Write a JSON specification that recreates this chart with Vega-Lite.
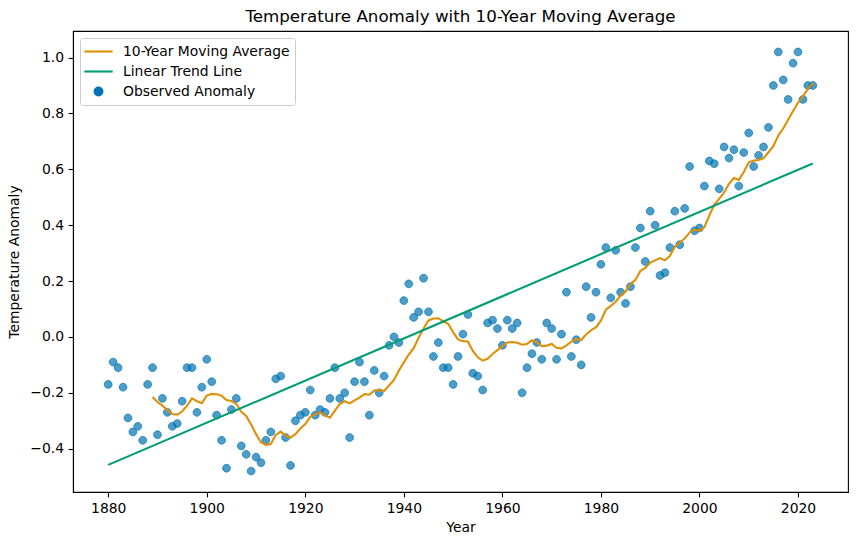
{
  "$schema": "https://vega.github.io/schema/vega-lite/v6.json",
  "width": 775,
  "height": 461,
  "autosize": {"type": "none"},
  "padding": {"left": 73, "top": 31, "right": 10, "bottom": 53},
  "background": "white",
  "config": {
    "font": "DejaVu Sans",
    "view": {"stroke": "black", "strokeWidth": 1.1},
    "axis": {
      "grid": false,
      "domainColor": "black",
      "domainWidth": 1.1,
      "tickColor": "black",
      "tickWidth": 1.1,
      "tickSize": 4.9,
      "labelPadding": 4.5,
      "labelFont": "DejaVu Sans",
      "labelFontSize": 13.9,
      "labelColor": "black",
      "titleFont": "DejaVu Sans",
      "titleFontSize": 13.9,
      "titleFontWeight": "normal",
      "titleColor": "black"
    },
    "title": {"font": "DejaVu Sans", "fontSize": 16.7, "fontWeight": "normal", "color": "black", "baseline": "alphabetic", "offset": 5.5, "anchor": "middle"}
  },
  "title": "Temperature Anomaly with 10-Year Moving Average",
  "datasets": {
    "observed": [
      {"year": 1880, "anomaly": -0.17}, {"year": 1881, "anomaly": -0.09}, {"year": 1882, "anomaly": -0.11}, {"year": 1883, "anomaly": -0.18},
      {"year": 1884, "anomaly": -0.29}, {"year": 1885, "anomaly": -0.34}, {"year": 1886, "anomaly": -0.32}, {"year": 1887, "anomaly": -0.37},
      {"year": 1888, "anomaly": -0.17}, {"year": 1889, "anomaly": -0.11}, {"year": 1890, "anomaly": -0.35}, {"year": 1891, "anomaly": -0.22},
      {"year": 1892, "anomaly": -0.27}, {"year": 1893, "anomaly": -0.32}, {"year": 1894, "anomaly": -0.31}, {"year": 1895, "anomaly": -0.23},
      {"year": 1896, "anomaly": -0.11}, {"year": 1897, "anomaly": -0.11}, {"year": 1898, "anomaly": -0.27}, {"year": 1899, "anomaly": -0.18},
      {"year": 1900, "anomaly": -0.08}, {"year": 1901, "anomaly": -0.16}, {"year": 1902, "anomaly": -0.28}, {"year": 1903, "anomaly": -0.37},
      {"year": 1904, "anomaly": -0.47}, {"year": 1905, "anomaly": -0.26}, {"year": 1906, "anomaly": -0.22}, {"year": 1907, "anomaly": -0.39},
      {"year": 1908, "anomaly": -0.42}, {"year": 1909, "anomaly": -0.48}, {"year": 1910, "anomaly": -0.43}, {"year": 1911, "anomaly": -0.45},
      {"year": 1912, "anomaly": -0.37}, {"year": 1913, "anomaly": -0.34}, {"year": 1914, "anomaly": -0.15}, {"year": 1915, "anomaly": -0.14},
      {"year": 1916, "anomaly": -0.36}, {"year": 1917, "anomaly": -0.46}, {"year": 1918, "anomaly": -0.30}, {"year": 1919, "anomaly": -0.28},
      {"year": 1920, "anomaly": -0.27}, {"year": 1921, "anomaly": -0.19}, {"year": 1922, "anomaly": -0.28}, {"year": 1923, "anomaly": -0.26},
      {"year": 1924, "anomaly": -0.27}, {"year": 1925, "anomaly": -0.22}, {"year": 1926, "anomaly": -0.11}, {"year": 1927, "anomaly": -0.22},
      {"year": 1928, "anomaly": -0.20}, {"year": 1929, "anomaly": -0.36}, {"year": 1930, "anomaly": -0.16}, {"year": 1931, "anomaly": -0.09},
      {"year": 1932, "anomaly": -0.16}, {"year": 1933, "anomaly": -0.28}, {"year": 1934, "anomaly": -0.12}, {"year": 1935, "anomaly": -0.20},
      {"year": 1936, "anomaly": -0.14}, {"year": 1937, "anomaly": -0.03}, {"year": 1938, "anomaly": 0.00}, {"year": 1939, "anomaly": -0.02},
      {"year": 1940, "anomaly": 0.13}, {"year": 1941, "anomaly": 0.19}, {"year": 1942, "anomaly": 0.07}, {"year": 1943, "anomaly": 0.09},
      {"year": 1944, "anomaly": 0.21}, {"year": 1945, "anomaly": 0.09}, {"year": 1946, "anomaly": -0.07}, {"year": 1947, "anomaly": -0.02},
      {"year": 1948, "anomaly": -0.11}, {"year": 1949, "anomaly": -0.11}, {"year": 1950, "anomaly": -0.17}, {"year": 1951, "anomaly": -0.07},
      {"year": 1952, "anomaly": 0.01}, {"year": 1953, "anomaly": 0.08}, {"year": 1954, "anomaly": -0.13}, {"year": 1955, "anomaly": -0.14},
      {"year": 1956, "anomaly": -0.19}, {"year": 1957, "anomaly": 0.05}, {"year": 1958, "anomaly": 0.06}, {"year": 1959, "anomaly": 0.03},
      {"year": 1960, "anomaly": -0.03}, {"year": 1961, "anomaly": 0.06}, {"year": 1962, "anomaly": 0.03}, {"year": 1963, "anomaly": 0.05},
      {"year": 1964, "anomaly": -0.20}, {"year": 1965, "anomaly": -0.11}, {"year": 1966, "anomaly": -0.06}, {"year": 1967, "anomaly": -0.02},
      {"year": 1968, "anomaly": -0.08}, {"year": 1969, "anomaly": 0.05}, {"year": 1970, "anomaly": 0.03}, {"year": 1971, "anomaly": -0.08},
      {"year": 1972, "anomaly": 0.01}, {"year": 1973, "anomaly": 0.16}, {"year": 1974, "anomaly": -0.07}, {"year": 1975, "anomaly": -0.01},
      {"year": 1976, "anomaly": -0.10}, {"year": 1977, "anomaly": 0.18}, {"year": 1978, "anomaly": 0.07}, {"year": 1979, "anomaly": 0.16},
      {"year": 1980, "anomaly": 0.26}, {"year": 1981, "anomaly": 0.32}, {"year": 1982, "anomaly": 0.14}, {"year": 1983, "anomaly": 0.31},
      {"year": 1984, "anomaly": 0.16}, {"year": 1985, "anomaly": 0.12}, {"year": 1986, "anomaly": 0.18}, {"year": 1987, "anomaly": 0.32},
      {"year": 1988, "anomaly": 0.39}, {"year": 1989, "anomaly": 0.27}, {"year": 1990, "anomaly": 0.45}, {"year": 1991, "anomaly": 0.40},
      {"year": 1992, "anomaly": 0.22}, {"year": 1993, "anomaly": 0.23}, {"year": 1994, "anomaly": 0.32}, {"year": 1995, "anomaly": 0.45},
      {"year": 1996, "anomaly": 0.33}, {"year": 1997, "anomaly": 0.46}, {"year": 1998, "anomaly": 0.61}, {"year": 1999, "anomaly": 0.38},
      {"year": 2000, "anomaly": 0.39}, {"year": 2001, "anomaly": 0.54}, {"year": 2002, "anomaly": 0.63}, {"year": 2003, "anomaly": 0.62},
      {"year": 2004, "anomaly": 0.53}, {"year": 2005, "anomaly": 0.68}, {"year": 2006, "anomaly": 0.64}, {"year": 2007, "anomaly": 0.67},
      {"year": 2008, "anomaly": 0.54}, {"year": 2009, "anomaly": 0.66}, {"year": 2010, "anomaly": 0.73}, {"year": 2011, "anomaly": 0.61},
      {"year": 2012, "anomaly": 0.65}, {"year": 2013, "anomaly": 0.68}, {"year": 2014, "anomaly": 0.75}, {"year": 2015, "anomaly": 0.90},
      {"year": 2016, "anomaly": 1.02}, {"year": 2017, "anomaly": 0.92}, {"year": 2018, "anomaly": 0.85}, {"year": 2019, "anomaly": 0.98},
      {"year": 2020, "anomaly": 1.02}, {"year": 2021, "anomaly": 0.85}, {"year": 2022, "anomaly": 0.90}, {"year": 2023, "anomaly": 0.90}
    ],
    "moving": [
      {"year": 1889, "ma": -0.215}, {"year": 1890, "ma": -0.233}, {"year": 1891, "ma": -0.246}, {"year": 1892, "ma": -0.262},
      {"year": 1893, "ma": -0.276}, {"year": 1894, "ma": -0.278}, {"year": 1895, "ma": -0.267}, {"year": 1896, "ma": -0.246},
      {"year": 1897, "ma": -0.220}, {"year": 1898, "ma": -0.230}, {"year": 1899, "ma": -0.237}, {"year": 1900, "ma": -0.210},
      {"year": 1901, "ma": -0.204}, {"year": 1902, "ma": -0.205}, {"year": 1903, "ma": -0.210}, {"year": 1904, "ma": -0.226},
      {"year": 1905, "ma": -0.229}, {"year": 1906, "ma": -0.240}, {"year": 1907, "ma": -0.268}, {"year": 1908, "ma": -0.283},
      {"year": 1909, "ma": -0.313}, {"year": 1910, "ma": -0.348}, {"year": 1911, "ma": -0.377}, {"year": 1912, "ma": -0.386},
      {"year": 1913, "ma": -0.383}, {"year": 1914, "ma": -0.351}, {"year": 1915, "ma": -0.339}, {"year": 1916, "ma": -0.353},
      {"year": 1917, "ma": -0.360}, {"year": 1918, "ma": -0.348}, {"year": 1919, "ma": -0.328}, {"year": 1920, "ma": -0.312},
      {"year": 1921, "ma": -0.286}, {"year": 1922, "ma": -0.277}, {"year": 1923, "ma": -0.269}, {"year": 1924, "ma": -0.281},
      {"year": 1925, "ma": -0.289}, {"year": 1926, "ma": -0.264}, {"year": 1927, "ma": -0.240}, {"year": 1928, "ma": -0.230},
      {"year": 1929, "ma": -0.238}, {"year": 1930, "ma": -0.227}, {"year": 1931, "ma": -0.217}, {"year": 1932, "ma": -0.205},
      {"year": 1933, "ma": -0.207}, {"year": 1934, "ma": -0.192}, {"year": 1935, "ma": -0.190}, {"year": 1936, "ma": -0.193},
      {"year": 1937, "ma": -0.174}, {"year": 1938, "ma": -0.154}, {"year": 1939, "ma": -0.120}, {"year": 1940, "ma": -0.091},
      {"year": 1941, "ma": -0.063}, {"year": 1942, "ma": -0.040}, {"year": 1943, "ma": -0.003}, {"year": 1944, "ma": 0.030},
      {"year": 1945, "ma": 0.059}, {"year": 1946, "ma": 0.066}, {"year": 1947, "ma": 0.067}, {"year": 1948, "ma": 0.056},
      {"year": 1949, "ma": 0.047}, {"year": 1950, "ma": 0.017}, {"year": 1951, "ma": -0.009}, {"year": 1952, "ma": -0.015},
      {"year": 1953, "ma": -0.016}, {"year": 1954, "ma": -0.050}, {"year": 1955, "ma": -0.073}, {"year": 1956, "ma": -0.085},
      {"year": 1957, "ma": -0.078}, {"year": 1958, "ma": -0.061}, {"year": 1959, "ma": -0.047}, {"year": 1960, "ma": -0.033},
      {"year": 1961, "ma": -0.020}, {"year": 1962, "ma": -0.018}, {"year": 1963, "ma": -0.021}, {"year": 1964, "ma": -0.028},
      {"year": 1965, "ma": -0.025}, {"year": 1966, "ma": -0.012}, {"year": 1967, "ma": -0.019}, {"year": 1968, "ma": -0.033},
      {"year": 1969, "ma": -0.031}, {"year": 1970, "ma": -0.025}, {"year": 1971, "ma": -0.039}, {"year": 1972, "ma": -0.041},
      {"year": 1973, "ma": -0.030}, {"year": 1974, "ma": -0.017}, {"year": 1975, "ma": -0.007}, {"year": 1976, "ma": -0.011},
      {"year": 1977, "ma": 0.009}, {"year": 1978, "ma": 0.024}, {"year": 1979, "ma": 0.035}, {"year": 1980, "ma": 0.058},
      {"year": 1981, "ma": 0.098}, {"year": 1982, "ma": 0.111}, {"year": 1983, "ma": 0.126}, {"year": 1984, "ma": 0.149},
      {"year": 1985, "ma": 0.162}, {"year": 1986, "ma": 0.190}, {"year": 1987, "ma": 0.204}, {"year": 1988, "ma": 0.236},
      {"year": 1989, "ma": 0.247}, {"year": 1990, "ma": 0.266}, {"year": 1991, "ma": 0.274}, {"year": 1992, "ma": 0.282},
      {"year": 1993, "ma": 0.274}, {"year": 1994, "ma": 0.290}, {"year": 1995, "ma": 0.323}, {"year": 1996, "ma": 0.338},
      {"year": 1997, "ma": 0.352}, {"year": 1998, "ma": 0.374}, {"year": 1999, "ma": 0.385}, {"year": 2000, "ma": 0.379},
      {"year": 2001, "ma": 0.393}, {"year": 2002, "ma": 0.434}, {"year": 2003, "ma": 0.473}, {"year": 2004, "ma": 0.494},
      {"year": 2005, "ma": 0.517}, {"year": 2006, "ma": 0.548}, {"year": 2007, "ma": 0.569}, {"year": 2008, "ma": 0.562},
      {"year": 2009, "ma": 0.590}, {"year": 2010, "ma": 0.624}, {"year": 2011, "ma": 0.631}, {"year": 2012, "ma": 0.633},
      {"year": 2013, "ma": 0.639}, {"year": 2014, "ma": 0.661}, {"year": 2015, "ma": 0.683}, {"year": 2016, "ma": 0.721},
      {"year": 2017, "ma": 0.746}, {"year": 2018, "ma": 0.777}, {"year": 2019, "ma": 0.809}, {"year": 2020, "ma": 0.838},
      {"year": 2021, "ma": 0.862}, {"year": 2022, "ma": 0.887}, {"year": 2023, "ma": 0.909}
    ],
    "trend": [
      {"year": 1880, "fit": -0.458},
      {"year": 2023, "fit": 0.621}
    ]
  },
  "layer": [
    {
      "data": {"name": "observed"},
      "mark": {"type": "point", "filled": true, "size": 200, "fillOpacity": 0.7, "stroke": "#0173b2", "strokeOpacity": 0.7, "strokeWidth": 1.0},
      "encoding": {
        "x": {
          "field": "year", "type": "quantitative", "title": "Year",
          "scale": {"domain": [1872.85, 2030.15], "nice": false, "zero": false},
          "axis": {"values": [1880, 1900, 1920, 1940, 1960, 1980, 2000, 2020], "format": "d", "titlePadding": 5}
        },
        "y": {
          "field": "anomaly", "type": "quantitative", "title": "Temperature Anomaly",
          "scale": {"domain": [-0.555, 1.095], "nice": false, "zero": false},
          "axis": {"values": [-0.4, -0.2, 0, 0.2, 0.4, 0.6, 0.8, 1.0], "format": ".1f", "titlePadding": 8}
        },
        "color": {
          "datum": "Observed Anomaly",
          "scale": {"domain": ["10-Year Moving Average", "Linear Trend Line", "Observed Anomaly"], "range": ["#de8f05", "#029e73", "#0173b2"]},
          "legend": {
            "title": null,
            "orient": "none",
            "legendX": 7,
            "legendY": 7,
            "padding": 5,
            "fillColor": "rgba(255,255,255,0.8)",
            "strokeColor": "#cccccc",
            "cornerRadius": 3,
            "labelFont": "DejaVu Sans",
            "labelFontSize": 13.9,
            "labelColor": "black",
            "labelLimit": 400,
            "symbolSize": 200,
            "symbolStrokeWidth": 2.1,
            "symbolOffset": 5,
            "labelOffset": 16,
            "rowPadding": 4
          }
        },
        "shape": {
          "datum": "Observed Anomaly",
          "scale": {"domain": ["10-Year Moving Average", "Linear Trend Line", "Observed Anomaly"], "range": ["M-2,0L2,0", "M-2,0L2,0", "M-0.55,0A0.55,0.55,0,1,0,0.55,0A0.55,0.55,0,1,0,-0.55,0Z"]}
        }
      }
    },
    {
      "data": {"name": "moving"},
      "mark": {"type": "line", "strokeWidth": 2.1, "interpolate": "linear"},
      "encoding": {
        "x": {"field": "year", "type": "quantitative"},
        "y": {"field": "ma", "type": "quantitative"},
        "color": {"datum": "10-Year Moving Average"}
      }
    },
    {
      "data": {"name": "trend"},
      "mark": {"type": "line", "strokeWidth": 2.1},
      "encoding": {
        "x": {"field": "year", "type": "quantitative"},
        "y": {"field": "fit", "type": "quantitative"},
        "color": {"datum": "Linear Trend Line"}
      }
    }
  ]
}
